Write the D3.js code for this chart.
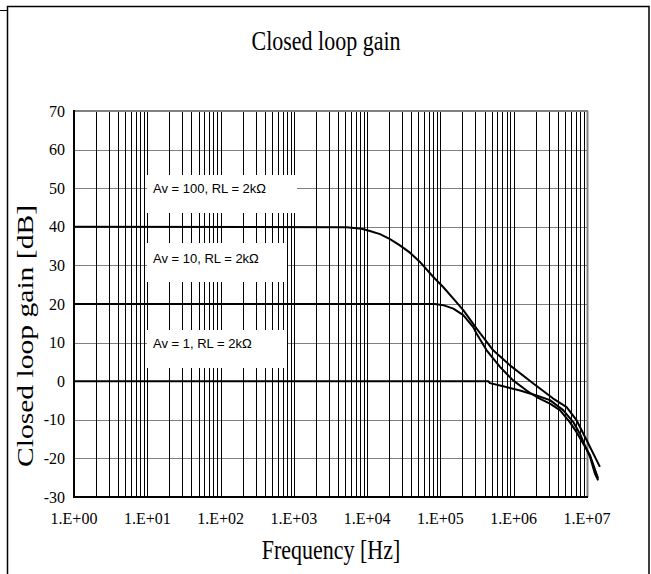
<!DOCTYPE html>
<html>
<head>
<meta charset="utf-8">
<script src="https://cdn.jsdelivr.net/npm/d3@7"></script>
<style>
  body { margin: 0; background: #fff; }
  svg { display: block; }
</style>
</head>
<body>
<svg id="chart" width="651" height="574"></svg>
<script>
// frequency sweep readings
const av100Freq = [1, 5.2e3, 8.4e3, 1.09e4, 1.5e4, 2.05e4, 2.8e4, 3.84e4, 5.25e4, 8.0e4, 1.09e5, 1.5e5, 2.05e5, 3.12e5, 5.25e5, 8.9e5, 1.85e6, 3.46e6, 5.27e6, 7.2e6, 9.9e6, 1.5e7];
const av100Gain = [40, 39.9, 39.5, 38.9, 38.1, 36.8, 35.2, 33.3, 30.9, 27.0, 24.4, 21.4, 18.4, 13.6, 8.0, 4.1, -0.6, -4.5, -6.7, -10.1, -15.3, -22.2];

const av10Freq = [1, 8.4e4, 1.09e5, 1.5e5, 2.05e5, 2.8e5, 3.12e5, 4.27e5, 6.5e5, 9.8e5, 1.5e6, 2.05e6, 3.12e6, 4.27e6, 5.83e6, 7.2e6, 8.9e6, 1.1e7, 1.42e7];
const av10Gain = [20, 20.0, 19.7, 18.8, 17.1, 14.0, 12.3, 8.0, 3.7, 0.2, -2.4, -4.1, -5.8, -7.5, -10.6, -13.2, -16.2, -19.2, -25.2];

const av1Freq = [1, 4.5e5, 4.73e5, 7.2e5, 1.22e6, 2.05e6, 3.12e6, 4.73e6, 6.49e6, 8.0e6, 9.35e6, 1.1e7, 1.28e7, 1.42e7];
const av1Gain = [0, 0, -0.5, -1.3, -2.4, -3.7, -4.9, -7.5, -10.6, -13.6, -16.6, -19.6, -23.9, -25.7];

const seriesLabels = ["Av = 100, RL = 2kΩ", "Av = 10, RL = 2kΩ", "Av = 1, RL = 2kΩ"];
const freqTicks = [1e0, 1e1, 1e2, 1e3, 1e4, 1e5, 1e6, 1e7];
const gainTicks = [-30, -20, -10, 0, 10, 20, 30, 40, 50, 60, 70];

const chartTitle = "Closed loop gain";
const xTitle = "Frequency [Hz]";
const yTitle = "Closed loop gain [dB]";

const svg = d3.select("#chart");
const plot = { left: 74, right: 587, top: 111, bottom: 497 };

const x = d3.scaleLog().domain([1, 1e7]).range([plot.left, plot.right]);
const y = d3.scaleLinear().domain([-30, 70]).range([plot.bottom, plot.top]);

const serif = "'Liberation Serif', 'Times New Roman', serif";
const sans = "'Liberation Sans', Arial, sans-serif";

// outer chart frame
svg.append("rect")
  .attr("x", 7.5).attr("y", 6.5)
  .attr("width", 641.5).attr("height", 580)
  .attr("fill", "none")
  .attr("stroke", "#000")
  .attr("stroke-width", 1.5);
svg.append("line")
  .attr("x1", 0).attr("x2", 7)
  .attr("y1", 10.5).attr("y2", 10.5)
  .attr("stroke", "#000");

// minor + major vertical grid (1..9 per decade)
const vGrid = [];
for (let k = 0; k < 7; k += 1) {
  for (let m = 1; m < 10; m += 1) vGrid.push(m * Math.pow(10, k));
}

const grid = svg.append("g").attr("class", "grid");

grid.selectAll(".hgrid")
  .data(gainTicks)
  .enter()
  .append("line")
  .attr("class", "hgrid")
  .attr("x1", plot.left).attr("x2", plot.right)
  .attr("y1", (d) => Math.round(y(d)) + 0.5)
  .attr("y2", (d) => Math.round(y(d)) + 0.5)
  .attr("stroke", "#808080")
  .attr("stroke-width", 1);

grid.selectAll(".vgrid")
  .data(vGrid)
  .enter()
  .append("line")
  .attr("class", "vgrid")
  .attr("x1", (d) => Math.round(x(d)) + 0.5)
  .attr("x2", (d) => Math.round(x(d)) + 0.5)
  .attr("y1", plot.top).attr("y2", plot.bottom)
  .attr("stroke", "#000")
  .attr("stroke-width", 1);

// plot frame: gray top/right, black left/bottom
svg.append("line")
  .attr("x1", plot.left).attr("x2", plot.right + 1)
  .attr("y1", plot.top).attr("y2", plot.top)
  .attr("stroke", "#808080").attr("stroke-width", 2);
svg.append("line")
  .attr("x1", plot.right + 0.5).attr("x2", plot.right + 0.5)
  .attr("y1", plot.top).attr("y2", plot.bottom)
  .attr("stroke", "#808080").attr("stroke-width", 2);
svg.append("line")
  .attr("x1", plot.left).attr("x2", plot.left)
  .attr("y1", plot.top - 1).attr("y2", plot.bottom + 1)
  .attr("stroke", "#000").attr("stroke-width", 2);
svg.append("line")
  .attr("x1", plot.left - 1).attr("x2", plot.right + 1)
  .attr("y1", plot.bottom).attr("y2", plot.bottom)
  .attr("stroke", "#000").attr("stroke-width", 2);

// label boxes, white, covering the grid
const labelBoxes = [
  { x: 147, y: 175, w: 150, h: 38, ty: 193 },
  { x: 147, y: 243, w: 140, h: 39, ty: 263 },
  { x: 147, y: 330, w: 140, h: 38, ty: 348 },
];

const notes = svg.append("g").attr("class", "notes");
labelBoxes.forEach((b, i) => {
  notes.append("rect")
    .attr("x", b.x).attr("y", b.y)
    .attr("width", b.w).attr("height", b.h)
    .attr("fill", "#fff");
  notes.append("text")
    .attr("x", b.x + 6).attr("y", b.ty)
    .attr("font-family", sans)
    .attr("font-size", 13)
    .attr("fill", "#000")
    .text(seriesLabels[i]);
});

// curves
const line = d3.line()
  .x((d) => x(d[0]))
  .y((d) => y(d[1]))
  .curve(d3.curveLinear);

const series = [
  d3.zip(av100Freq, av100Gain),
  d3.zip(av10Freq, av10Gain),
  d3.zip(av1Freq, av1Gain),
];

svg.append("g")
  .selectAll("path")
  .data(series)
  .enter()
  .append("path")
  .attr("d", line)
  .attr("fill", "none")
  .attr("stroke", "#000")
  .attr("stroke-width", 2)
  .attr("stroke-linejoin", "round");

// tick labels
svg.append("g")
  .selectAll("text")
  .data(gainTicks)
  .enter()
  .append("text")
  .attr("x", 65)
  .attr("y", (d) => y(d))
  .attr("dy", "0.35em")
  .attr("text-anchor", "end")
  .attr("font-family", serif)
  .attr("font-size", 16)
  .text((d) => d);

svg.append("g")
  .selectAll("text")
  .data(freqTicks)
  .enter()
  .append("text")
  .attr("x", (d) => x(d))
  .attr("y", 524)
  .attr("text-anchor", "middle")
  .attr("font-family", serif)
  .attr("font-size", 16)
  .text((d) => `1.E+${String(Math.round(Math.log10(d))).padStart(2, "0")}`);

// titles (the source renders them a little stretched vertically)
svg.append("text")
  .attr("transform", "translate(326,50) scale(1,1.2)")
  .attr("text-anchor", "middle")
  .attr("font-family", serif)
  .attr("font-size", 22)
  .text(chartTitle);

svg.append("text")
  .attr("transform", "translate(331,559) scale(1,1.2)")
  .attr("text-anchor", "middle")
  .attr("font-family", serif)
  .attr("font-size", 22)
  .text(xTitle);

svg.append("text")
  .attr("transform", "translate(33,336) rotate(-90)")
  .attr("text-anchor", "middle")
  .attr("font-family", serif)
  .attr("font-size", 23)
  .attr("textLength", 262)
  .attr("lengthAdjust", "spacingAndGlyphs")
  .text(yTitle);
</script>
</body>
</html>
